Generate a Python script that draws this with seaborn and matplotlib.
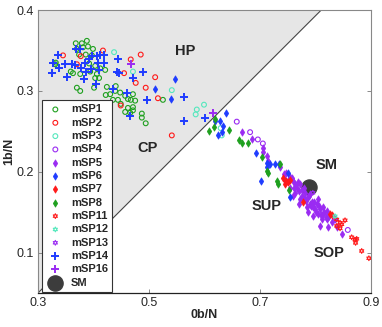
import numpy as np
import pandas as pd
import matplotlib
matplotlib.use("Agg")
import matplotlib.pyplot as plt
import seaborn as sns

# ---- data ----
mSP1_x = [0.368, 0.379, 0.388, 0.370, 0.381, 0.390, 0.399, 0.374, 0.386, 0.397, 0.331, 0.359,
          0.363, 0.376, 0.392, 0.403, 0.412, 0.421, 0.394, 0.406, 0.403, 0.410, 0.401, 0.370,
          0.376, 0.424, 0.440, 0.422, 0.430, 0.439, 0.448, 0.435, 0.444, 0.457, 0.462, 0.471,
          0.467, 0.475, 0.449, 0.462, 0.471, 0.457, 0.466, 0.471, 0.487, 0.487, 0.494, 0.525, 0.332]
mSP1_y = [0.359, 0.359, 0.362, 0.352, 0.354, 0.355, 0.352, 0.345, 0.345, 0.344, 0.333, 0.324,
          0.322, 0.321, 0.334, 0.331, 0.328, 0.326, 0.324, 0.321, 0.316, 0.316, 0.304, 0.304,
          0.300, 0.305, 0.306, 0.295, 0.296, 0.300, 0.298, 0.289, 0.289, 0.294, 0.290, 0.296,
          0.289, 0.288, 0.284, 0.279, 0.280, 0.274, 0.273, 0.276, 0.272, 0.267, 0.260, 0.289, 0.335]

mSP2_x = [0.345, 0.377, 0.370, 0.417, 0.467, 0.485, 0.455, 0.476, 0.494, 0.511, 0.516, 0.449, 0.541]
mSP2_y = [0.344, 0.343, 0.333, 0.350, 0.339, 0.345, 0.322, 0.310, 0.304, 0.317, 0.291, 0.282, 0.245]

mSP3_x = [0.437, 0.471, 0.541, 0.586, 0.584, 0.599, 0.629, 0.631]
mSP3_y = [0.348, 0.324, 0.301, 0.277, 0.271, 0.283, 0.254, 0.245]

mSP4_x = [0.658, 0.682, 0.696, 0.705, 0.858]
mSP4_y = [0.262, 0.249, 0.240, 0.235, 0.128]

mSP5_x = [0.667, 0.685, 0.705, 0.705, 0.712, 0.714, 0.736, 0.746, 0.745, 0.754, 0.759, 0.754,
          0.768, 0.766, 0.763, 0.775, 0.772, 0.781, 0.786, 0.777, 0.784, 0.793, 0.802, 0.795,
          0.808, 0.813, 0.820, 0.795, 0.804, 0.811, 0.820, 0.808, 0.822, 0.829, 0.835, 0.838,
          0.847, 0.763, 0.772, 0.781, 0.790, 0.790, 0.799, 0.804, 0.813, 0.743, 0.750,
          0.757, 0.762, 0.770, 0.775, 0.779, 0.783, 0.788, 0.792, 0.797, 0.800, 0.806, 0.810,
          0.816, 0.818, 0.825, 0.771, 0.786, 0.760]
mSP5_y = [0.249, 0.241, 0.230, 0.224, 0.219, 0.213, 0.206, 0.199, 0.190, 0.194, 0.188, 0.180,
          0.187, 0.180, 0.174, 0.178, 0.166, 0.174, 0.169, 0.168, 0.157, 0.163, 0.160, 0.156,
          0.154, 0.156, 0.151, 0.145, 0.148, 0.141, 0.141, 0.133, 0.132, 0.138, 0.141, 0.132,
          0.123, 0.185, 0.185, 0.166, 0.172, 0.160, 0.154, 0.166, 0.148, 0.197, 0.188,
          0.192, 0.180, 0.176, 0.170, 0.180, 0.164, 0.170, 0.158, 0.162, 0.150, 0.158, 0.146,
          0.150, 0.144, 0.145, 0.160, 0.150, 0.170]

mSP6_x = [0.511, 0.539, 0.547, 0.619, 0.628, 0.633, 0.638, 0.624, 0.631, 0.692, 0.712, 0.718,
          0.727, 0.734, 0.712, 0.701, 0.750, 0.754]
mSP6_y = [0.302, 0.290, 0.315, 0.263, 0.263, 0.257, 0.273, 0.246, 0.249, 0.223, 0.211, 0.209,
          0.210, 0.210, 0.206, 0.188, 0.199, 0.169]

mSP7_x = [0.741, 0.746, 0.750, 0.745, 0.754, 0.777, 0.826, 0.829]
mSP7_y = [0.192, 0.189, 0.187, 0.185, 0.190, 0.162, 0.148, 0.146]

mSP8_x = [0.608, 0.617, 0.619, 0.644, 0.662, 0.667, 0.678, 0.703, 0.712, 0.714, 0.730, 0.732, 0.752, 0.736]
mSP8_y = [0.251, 0.256, 0.265, 0.252, 0.239, 0.235, 0.235, 0.218, 0.201, 0.199, 0.188, 0.185, 0.177, 0.209]

mSP11_x = [0.838, 0.844, 0.847, 0.838, 0.844, 0.853, 0.865, 0.871, 0.874, 0.872, 0.883, 0.896]
mSP11_y = [0.141, 0.137, 0.135, 0.133, 0.130, 0.140, 0.119, 0.116, 0.117, 0.112, 0.102, 0.093]

mSP12_x = [0.835]
mSP12_y = [0.145]

mSP13_x = [0.795]
mSP13_y = [0.174]

mSP14_x = [0.336, 0.327, 0.338, 0.349, 0.325, 0.352, 0.361, 0.367, 0.377, 0.368, 0.376, 0.397,
           0.392, 0.406, 0.412, 0.419, 0.419, 0.408, 0.385, 0.386, 0.395, 0.410, 0.383, 0.404,
           0.444, 0.442, 0.446, 0.471, 0.489, 0.435, 0.460, 0.496, 0.466, 0.563, 0.563, 0.601]
mSP14_y = [0.344, 0.334, 0.329, 0.333, 0.322, 0.317, 0.333, 0.332, 0.329, 0.352, 0.352, 0.343,
           0.340, 0.343, 0.345, 0.344, 0.335, 0.334, 0.335, 0.324, 0.327, 0.326, 0.315, 0.309,
           0.340, 0.324, 0.322, 0.316, 0.323, 0.302, 0.298, 0.289, 0.269, 0.293, 0.263, 0.267]

mSP16_x = [0.467, 0.615]
mSP16_y = [0.333, 0.273]

SM_x = [0.788]
SM_y = [0.181]

region_names = ["HP", "CP", "SM", "SUP", "SOP"]
region_x = [0.566, 0.498, 0.820, 0.712, 0.824]
region_y = [0.349, 0.229, 0.208, 0.158, 0.100]

# boundary of the shaded region
shade_x = [0.3, 0.81, 0.3]
shade_y = [0.05, 0.4, 0.4]

green = "#1fa01f"
red = "#ff1a1a"
aqua = "#55e8bd"
purple = "#9a2bf2"
blue = "#1f3cff"

series = [
    ("mSP1", mSP1_x, mSP1_y, "o", green, False),
    ("mSP2", mSP2_x, mSP2_y, "o", red, False),
    ("mSP3", mSP3_x, mSP3_y, "o", aqua, False),
    ("mSP4", mSP4_x, mSP4_y, "o", purple, False),
    ("mSP5", mSP5_x, mSP5_y, "d", purple, True),
    ("mSP6", mSP6_x, mSP6_y, "d", blue, True),
    ("mSP7", mSP7_x, mSP7_y, "d", red, True),
    ("mSP8", mSP8_x, mSP8_y, "d", green, True),
    ("mSP11", mSP11_x, mSP11_y, (6, 1, 0), red, False),
    ("mSP12", mSP12_x, mSP12_y, (6, 1, 0), aqua, False),
    ("mSP13", mSP13_x, mSP13_y, (6, 1, 0), purple, False),
    ("mSP14", mSP14_x, mSP14_y, "+", blue, None),
    ("mSP16", mSP16_x, mSP16_y, "+", purple, None),
]

sns.set_style("white")
plt.rcParams["font.family"] = ["Liberation Sans", "DejaVu Sans"]

fig = plt.figure(figsize=(3.82, 3.27), dpi=100)
ax = fig.add_axes([0.0995, 0.104, 0.872, 0.865])

ax.fill(shade_x, shade_y, facecolor="#e6e6e6", edgecolor="none", zorder=0)
ax.plot(shade_x[:2], shade_y[:2], color="#444444", lw=0.8, zorder=1)

sm = pd.DataFrame({"x": SM_x, "y": SM_y})
sns.scatterplot(data=sm, x="x", y="y", marker="o", color="#3c3c3c", s=120,
                edgecolor="#3c3c3c", ax=ax, label="_sm", zorder=2.5)

for name, xs, ys, mk, col, filled in series:
    df = pd.DataFrame({"x": xs, "y": ys})
    if filled is None:
        sns.scatterplot(data=df, x="x", y="y", marker=mk, color=col, s=30,
                        linewidth=1.4, ax=ax, label=name, zorder=3)
    elif filled:
        sns.scatterplot(data=df, x="x", y="y", marker=mk, color=col, s=14,
                        edgecolor=col, linewidth=0.5, ax=ax, label=name, zorder=3)
    else:
        sns.scatterplot(data=df, x="x", y="y", marker=mk, color=col, s=12,
                        facecolor="none", edgecolor=col, linewidth=0.8, ax=ax,
                        label=name, zorder=3)

# legend entry for SM (drawn below the points in the plot)
ax.scatter([], [], marker="o", s=120, color="#3c3c3c", label="SM")

for t, tx, ty in zip(region_names, region_x, region_y):
    ax.text(tx, ty, t, fontsize=10.5, fontweight="bold", ha="center", va="center")

ax.set_xlim(0.3, 0.9)
ax.set_ylim(0.05, 0.4)
ax.set_xticks([0.3, 0.5, 0.7, 0.9])
ax.set_yticks([0.1, 0.2, 0.3, 0.4])
ax.set_xticklabels(["0.3", "0.5", "0.7", "0.9"])
ax.set_yticklabels(["0.1", "0.2", "0.3", "0.4"])
ax.tick_params(direction="in", length=3, width=0.6, color="#777777", labelsize=9,
               top=False, right=True, bottom=True, left=True, pad=3)
ax.set_xlabel("0b/N", fontsize=9, fontweight="bold", labelpad=0)
ax.set_ylabel("1b/N", fontsize=9, fontweight="bold", labelpad=1)

for side in ["top", "right", "left"]:
    ax.spines[side].set_color("#888888")
    ax.spines[side].set_linewidth(0.8)
ax.spines["bottom"].set_color("#222222")
ax.spines["bottom"].set_linewidth(0.9)

leg = ax.legend(loc="lower left", bbox_to_anchor=(0.012, 0.003),
                prop={"weight": "bold", "size": 8}, frameon=True, fancybox=False,
                borderpad=0.4, labelspacing=0.3, handletextpad=0.6, handlelength=1.6,
                borderaxespad=0)
leg.get_frame().set_edgecolor("#333333")
leg.get_frame().set_linewidth(0.8)
leg.get_frame().set_facecolor("white")
leg.get_frame().set_alpha(1)

fig.savefig("out.png", dpi=100)
